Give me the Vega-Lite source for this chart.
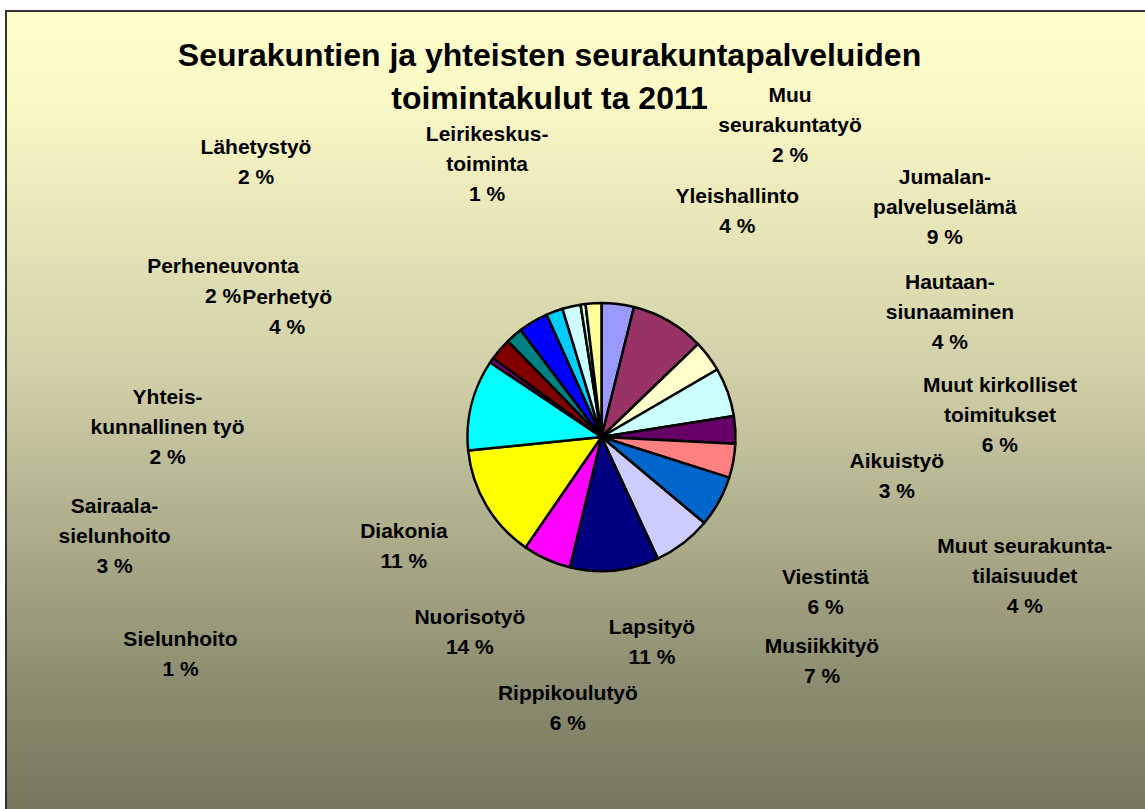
{
  "$schema": "https://vega.github.io/schema/vega-lite/v6.json",
  "width": 1191,
  "height": 852,
  "autosize": {"type": "none"},
  "padding": {"left": 6, "top": 11, "right": -52, "bottom": -54},
  "background": "white",
  "config": {"view": {"stroke": null}, "font": "Liberation Sans"},
  "title": {
    "text": ["Seurakuntien ja yhteisten seurakuntapalveluiden", "toimintakulut ta 2011"],
    "font": "Liberation Sans",
    "fontSize": 32,
    "fontWeight": "bold",
    "color": "black",
    "lineHeight": 43,
    "anchor": "middle",
    "frame": "group",
    "dx": -52,
    "offset": -217
  },
  "layer": [
    {
      "data": {"values": [{}]},
      "mark": {
        "type": "rect",
        "stroke": "#333333",
        "strokeWidth": 2,
        "color": {
          "gradient": "linear",
          "x1": 0, "y1": 0, "x2": 0, "y2": 1,
          "stops": [
            {"offset": 0, "color": "#FFFFCC"},
            {"offset": 0.1, "color": "#FBF9C6"},
            {"offset": 0.43, "color": "#D0CFA8"},
            {"offset": 0.79, "color": "#8C8C70"},
            {"offset": 1, "color": "#6E6E56"}
          ]
        }
      },
      "encoding": {}
    },
    {
      "data": {
        "values": [
          {"ord": 1, "cat": "Yleishallinto", "value": 3.9, "label": "Yleishallinto\n4 %"},
          {"ord": 2, "cat": "Jumalanpalveluselämä", "value": 8.9, "label": "Jumalan-\npalveluselämä\n9 %"},
          {"ord": 3, "cat": "Hautaansiunaaminen", "value": 3.8, "label": "Hautaan-\nsiunaaminen\n4 %"},
          {"ord": 4, "cat": "Muut kirkolliset toimitukset", "value": 5.9, "label": "Muut kirkolliset\ntoimitukset\n6 %"},
          {"ord": 5, "cat": "Aikuistyö", "value": 3.3, "label": "Aikuistyö\n3 %"},
          {"ord": 6, "cat": "Muut seurakuntatilaisuudet", "value": 4.1, "label": "Muut seurakunta-\ntilaisuudet\n4 %"},
          {"ord": 7, "cat": "Viestintä", "value": 6.2, "label": "Viestintä\n6 %"},
          {"ord": 8, "cat": "Musiikkityö", "value": 7.0, "label": "Musiikkityö\n7 %"},
          {"ord": 9, "cat": "Lapsityö", "value": 10.7, "label": "Lapsityö\n11 %"},
          {"ord": 10, "cat": "Rippikoulutyö", "value": 5.8, "label": "Rippikoulutyö\n6 %"},
          {"ord": 11, "cat": "Nuorisotyö", "value": 13.8, "label": "Nuorisotyö\n14 %"},
          {"ord": 12, "cat": "Diakonia", "value": 11.0, "label": "Diakonia\n11 %"},
          {"ord": 13, "cat": "Sielunhoito", "value": 0.6, "label": "Sielunhoito\n1 %"},
          {"ord": 14, "cat": "Sairaalasielunhoito", "value": 2.7, "label": "Sairaala-\nsielunhoito\n3 %"},
          {"ord": 15, "cat": "Yhteiskunnallinen työ", "value": 2.0, "label": "Yhteis-\nkunnallinen työ\n2 %"},
          {"ord": 16, "cat": "Perhetyö", "value": 3.6, "label": "Perhetyö\n4 %"},
          {"ord": 17, "cat": "Perheneuvonta", "value": 2.0, "label": "Perheneuvonta\n2 %"},
          {"ord": 18, "cat": "Lähetystyö", "value": 2.2, "label": "Lähetystyö\n2 %"},
          {"ord": 19, "cat": "Leirikeskustoiminta", "value": 0.6, "label": "Leirikeskus-\ntoiminta\n1 %"},
          {"ord": 20, "cat": "Muu seurakuntatyö", "value": 1.9, "label": "Muu\nseurakuntatyö\n2 %"}
        ]
      },
      "encoding": {
        "theta": {"field": "value", "type": "quantitative", "stack": true},
        "order": {"field": "ord", "type": "quantitative"}
      },
      "layer": [
        {
          "mark": {"type": "arc", "outerRadius": 134, "stroke": "black", "strokeWidth": 2.5, "strokeJoin": "round"},
          "encoding": {
            "color": {
              "field": "cat",
              "type": "nominal",
              "legend": null,
              "scale": {
                "domain": ["Yleishallinto", "Jumalanpalveluselämä", "Hautaansiunaaminen", "Muut kirkolliset toimitukset", "Aikuistyö", "Muut seurakuntatilaisuudet", "Viestintä", "Musiikkityö", "Lapsityö", "Rippikoulutyö", "Nuorisotyö", "Diakonia", "Sielunhoito", "Sairaalasielunhoito", "Yhteiskunnallinen työ", "Perhetyö", "Perheneuvonta", "Lähetystyö", "Leirikeskustoiminta", "Muu seurakuntatyö"],
                "range": ["#9999FF", "#993366", "#FFFFCC", "#CCFFFF", "#660066", "#FF8080", "#0066CC", "#CCCCFF", "#000080", "#FF00FF", "#FFFF00", "#00FFFF", "#800080", "#800000", "#008080", "#0000FF", "#00CCFF", "#CCFFFF", "#CCFFCC", "#FFFF99"]
              }
            }
          }
        },
        {"mark": {"type": "text", "radius": 263, "thetaOffset": 0.420, "dy": -15, "fontSize": 21, "fontWeight": "bold", "color": "black", "lineBreak": "\n", "lineHeight": 30, "align": "center", "baseline": "middle"},
         "encoding": {"text": {"condition": {"test": "datum.cat === 'Yleishallinto'", "field": "label", "type": "nominal"}, "value": ""}}},
        {"mark": {"type": "text", "radius": 413, "thetaOffset": 0.457, "dy": -30, "fontSize": 21, "fontWeight": "bold", "color": "black", "lineBreak": "\n", "lineHeight": 30, "align": "center", "baseline": "middle"},
         "encoding": {"text": {"condition": {"test": "datum.cat === 'Jumalanpalveluselämä'", "field": "label", "type": "nominal"}, "value": ""}}},
        {"mark": {"type": "text", "radius": 370, "thetaOffset": 0.304, "dy": -30, "fontSize": 21, "fontWeight": "bold", "color": "black", "lineBreak": "\n", "lineHeight": 30, "align": "center", "baseline": "middle"},
         "encoding": {"text": {"condition": {"test": "datum.cat === 'Hautaansiunaaminen'", "field": "label", "type": "nominal"}, "value": ""}}},
        {"mark": {"type": "text", "radius": 399, "thetaOffset": 0.290, "dy": -30, "fontSize": 21, "fontWeight": "bold", "color": "black", "lineBreak": "\n", "lineHeight": 30, "align": "center", "baseline": "middle"},
         "encoding": {"text": {"condition": {"test": "datum.cat === 'Muut kirkolliset toimitukset'", "field": "label", "type": "nominal"}, "value": ""}}},
        {"mark": {"type": "text", "radius": 298, "thetaOffset": 0.188, "dy": -15, "fontSize": 21, "fontWeight": "bold", "color": "black", "lineBreak": "\n", "lineHeight": 30, "align": "center", "baseline": "middle"},
         "encoding": {"text": {"condition": {"test": "datum.cat === 'Aikuistyö'", "field": "label", "type": "nominal"}, "value": ""}}},
        {"mark": {"type": "text", "radius": 446, "thetaOffset": 0.141, "dy": -30, "fontSize": 21, "fontWeight": "bold", "color": "black", "lineBreak": "\n", "lineHeight": 30, "align": "center", "baseline": "middle"},
         "encoding": {"text": {"condition": {"test": "datum.cat === 'Muut seurakuntatilaisuudet'", "field": "label", "type": "nominal"}, "value": ""}}},
        {"mark": {"type": "text", "radius": 273, "thetaOffset": 0.106, "dy": -15, "fontSize": 21, "fontWeight": "bold", "color": "black", "lineBreak": "\n", "lineHeight": 30, "align": "center", "baseline": "middle"},
         "encoding": {"text": {"condition": {"test": "datum.cat === 'Viestintä'", "field": "label", "type": "nominal"}, "value": ""}}},
        {"mark": {"type": "text", "radius": 315, "thetaOffset": -0.122, "dy": -15, "fontSize": 21, "fontWeight": "bold", "color": "black", "lineBreak": "\n", "lineHeight": 30, "align": "center", "baseline": "middle"},
         "encoding": {"text": {"condition": {"test": "datum.cat === 'Musiikkityö'", "field": "label", "type": "nominal"}, "value": ""}}},
        {"mark": {"type": "text", "radius": 212, "thetaOffset": -0.143, "dy": -15, "fontSize": 21, "fontWeight": "bold", "color": "black", "lineBreak": "\n", "lineHeight": 30, "align": "center", "baseline": "middle"},
         "encoding": {"text": {"condition": {"test": "datum.cat === 'Lapsityö'", "field": "label", "type": "nominal"}, "value": ""}}},
        {"mark": {"type": "text", "radius": 274, "thetaOffset": -0.298, "dy": -15, "fontSize": 21, "fontWeight": "bold", "color": "black", "lineBreak": "\n", "lineHeight": 30, "align": "center", "baseline": "middle"},
         "encoding": {"text": {"condition": {"test": "datum.cat === 'Rippikoulutyö'", "field": "label", "type": "nominal"}, "value": ""}}},
        {"mark": {"type": "text", "radius": 236, "thetaOffset": -0.445, "dy": -15, "fontSize": 21, "fontWeight": "bold", "color": "black", "lineBreak": "\n", "lineHeight": 30, "align": "center", "baseline": "middle"},
         "encoding": {"text": {"condition": {"test": "datum.cat === 'Nuorisotyö'", "field": "label", "type": "nominal"}, "value": ""}}},
        {"mark": {"type": "text", "radius": 226, "thetaOffset": -0.752, "dy": -15, "fontSize": 21, "fontWeight": "bold", "color": "black", "lineBreak": "\n", "lineHeight": 30, "align": "center", "baseline": "middle"},
         "encoding": {"text": {"condition": {"test": "datum.cat === 'Diakonia'", "field": "label", "type": "nominal"}, "value": ""}}},
        {"mark": {"type": "text", "radius": 474, "thetaOffset": -1.087, "dy": -15, "fontSize": 21, "fontWeight": "bold", "color": "black", "lineBreak": "\n", "lineHeight": 30, "align": "center", "baseline": "middle"},
         "encoding": {"text": {"condition": {"test": "datum.cat === 'Sielunhoito'", "field": "label", "type": "nominal"}, "value": ""}}},
        {"mark": {"type": "text", "radius": 497, "thetaOffset": -0.915, "dy": -30, "fontSize": 21, "fontWeight": "bold", "color": "black", "lineBreak": "\n", "lineHeight": 30, "align": "center", "baseline": "middle"},
         "encoding": {"text": {"condition": {"test": "datum.cat === 'Sairaalasielunhoito'", "field": "label", "type": "nominal"}, "value": ""}}},
        {"mark": {"type": "text", "radius": 434, "thetaOffset": -0.839, "dy": -30, "fontSize": 21, "fontWeight": "bold", "color": "black", "lineBreak": "\n", "lineHeight": 30, "align": "center", "baseline": "middle"},
         "encoding": {"text": {"condition": {"test": "datum.cat === 'Yhteiskunnallinen työ'", "field": "label", "type": "nominal"}, "value": ""}}},
        {"mark": {"type": "text", "radius": 338, "thetaOffset": -0.661, "dy": -15, "fontSize": 21, "fontWeight": "bold", "color": "black", "lineBreak": "\n", "lineHeight": 30, "align": "center", "baseline": "middle"},
         "encoding": {"text": {"condition": {"test": "datum.cat === 'Perhetyö'", "field": "label", "type": "nominal"}, "value": ""}}},
        {"mark": {"type": "text", "radius": 409, "thetaOffset": -0.824, "dy": -15, "fontSize": 21, "fontWeight": "bold", "color": "black", "lineBreak": "\n", "lineHeight": 30, "align": "center", "baseline": "middle"},
         "encoding": {"text": {"condition": {"test": "datum.cat === 'Perheneuvonta'", "field": "label", "type": "nominal"}, "value": ""}}},
        {"mark": {"type": "text", "radius": 441, "thetaOffset": -0.674, "dy": -15, "fontSize": 21, "fontWeight": "bold", "color": "black", "lineBreak": "\n", "lineHeight": 30, "align": "center", "baseline": "middle"},
         "encoding": {"text": {"condition": {"test": "datum.cat === 'Lähetystyö'", "field": "label", "type": "nominal"}, "value": ""}}},
        {"mark": {"type": "text", "radius": 295, "thetaOffset": -0.260, "dy": -30, "fontSize": 21, "fontWeight": "bold", "color": "black", "lineBreak": "\n", "lineHeight": 30, "align": "center", "baseline": "middle"},
         "encoding": {"text": {"condition": {"test": "datum.cat === 'Leirikeskustoiminta'", "field": "label", "type": "nominal"}, "value": ""}}},
        {"mark": {"type": "text", "radius": 364, "thetaOffset": 0.604, "dy": -30, "fontSize": 21, "fontWeight": "bold", "color": "black", "lineBreak": "\n", "lineHeight": 30, "align": "center", "baseline": "middle"},
         "encoding": {"text": {"condition": {"test": "datum.cat === 'Muu seurakuntatyö'", "field": "label", "type": "nominal"}, "value": ""}}}
      ]
    }
  ]
}
